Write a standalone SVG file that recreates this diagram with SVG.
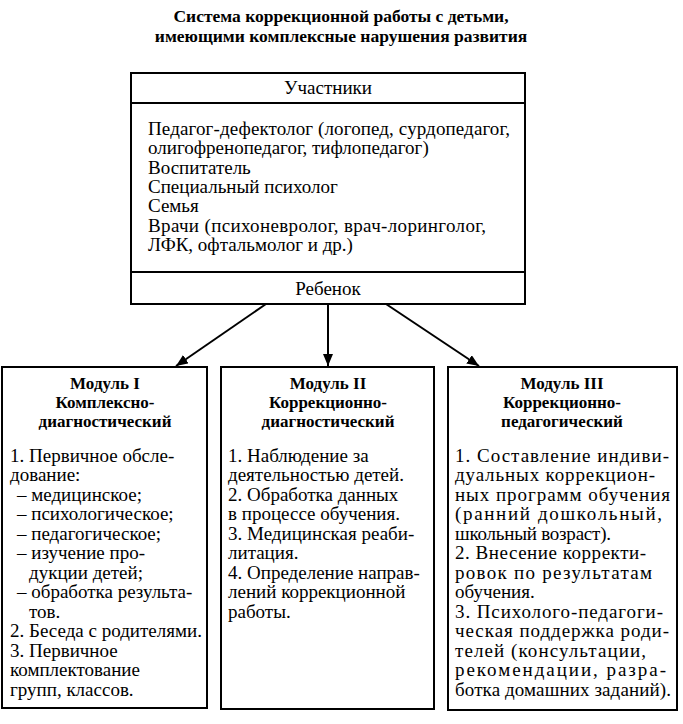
<svg xmlns="http://www.w3.org/2000/svg" width="683" height="724" viewBox="0 0 683 724">
<style>
  text { font-family: "Liberation Serif", "Times New Roman", serif; fill: #000; }
  .title { font-size: 17.5px; font-weight: bold; text-anchor: middle; }
  .hdr { font-size: 19px; text-anchor: middle; }
  .body { font-size: 19px; }
  .mt { font-size: 17px; font-weight: bold; text-anchor: middle; }
  .box { fill: #fff; stroke: #000; stroke-width: 2; }
  .div { stroke: #000; stroke-width: 2; }
  .conn { stroke: #000; stroke-width: 2; fill: none; marker-end: url(#ah); }
</style>
<defs>
  <marker id="ah" viewBox="0 0 12 10" refX="12" refY="5" markerWidth="12" markerHeight="10" markerUnits="userSpaceOnUse" orient="auto">
    <path d="M0,0 L12,5 L0,10 Z" fill="#000"/>
  </marker>
</defs>
<rect width="683" height="724" fill="#fff"/>
<g id="title">
  <text class="title" x="341" y="22">Система коррекционной работы с детьми,</text>
  <text class="title" x="341" y="42">имеющими комплексные нарушения развития</text>
</g>
<g id="participants">
  <rect class="box" x="131" y="73" width="394" height="231"/>
  <line class="div" x1="131" y1="103" x2="525" y2="103"/>
  <line class="div" x1="131" y1="272" x2="525" y2="272"/>
  <text class="hdr" x="328" y="94">Участники</text>
  <text class="body" x="148" y="135" textLength="362" lengthAdjust="spacing">Педагог-дефектолог (логопед, сурдопедагог,</text>
  <text class="body" x="148" y="154">олигофренопедагог, тифлопедагог)</text>
  <text class="body" x="148" y="174">Воспитатель</text>
  <text class="body" x="148" y="193">Специальный психолог</text>
  <text class="body" x="148" y="212">Семья</text>
  <text class="body" x="148" y="232" textLength="338" lengthAdjust="spacing">Врачи (психоневролог, врач-лоринголог,</text>
  <text class="body" x="148" y="251">ЛФК, офтальмолог и др.)</text>
  <text class="hdr" x="328" y="295">Ребенок</text>
</g>
<g id="connectors">
  <line class="conn" x1="266" y1="304" x2="176" y2="366"/>
  <line class="conn" x1="328" y1="304" x2="328" y2="366"/>
  <line class="conn" x1="386" y1="304" x2="479" y2="366"/>
</g>
<g id="module1">
  <rect class="box" x="2" y="367" width="205" height="341"/>
  <text class="mt" x="105" y="389">Модуль I</text>
  <text class="mt" x="105" y="408">Комплексно-</text>
  <text class="mt" x="105" y="427">диагностический</text>
  <text class="body" x="10" y="462">1. Первичное обсле-</text>
  <text class="body" x="10" y="481">дование:</text>
  <text class="body" x="17" y="501">– медицинское;</text>
  <text class="body" x="17" y="520">– психологическое;</text>
  <text class="body" x="17" y="540">– педагогическое;</text>
  <text class="body" x="17" y="559">– изучение про-</text>
  <text class="body" x="29" y="579">дукции детей;</text>
  <text class="body" x="17" y="598">– обработка результа-</text>
  <text class="body" x="29" y="618">тов.</text>
  <text class="body" x="10" y="637">2. Беседа с родителями.</text>
  <text class="body" x="10" y="657">3. Первичное</text>
  <text class="body" x="10" y="676">комплектование</text>
  <text class="body" x="10" y="696">групп, классов.</text>
</g>
<g id="module2">
  <rect class="box" x="221" y="367" width="213" height="342"/>
  <text class="mt" x="328" y="389">Модуль II</text>
  <text class="mt" x="328" y="408">Коррекционно-</text>
  <text class="mt" x="328" y="427">диагностический</text>
  <text class="body" x="228" y="462">1. Наблюдение за</text>
  <text class="body" x="228" y="481">деятельностью детей.</text>
  <text class="body" x="228" y="501">2. Обработка данных</text>
  <text class="body" x="228" y="520">в процессе обучения.</text>
  <text class="body" x="228" y="540">3. Медицинская реаби-</text>
  <text class="body" x="228" y="559">литация.</text>
  <text class="body" x="228" y="579">4. Определение направ-</text>
  <text class="body" x="228" y="598">лений коррекционной</text>
  <text class="body" x="228" y="618">работы.</text>
</g>
<g id="module3">
  <rect class="box" x="448" y="367" width="229" height="343"/>
  <text class="mt" x="562" y="389">Модуль III</text>
  <text class="mt" x="562" y="408">Коррекционно-</text>
  <text class="mt" x="562" y="427">педагогический</text>
  <text class="body" x="455" y="462" textLength="214" lengthAdjust="spacing">1. Составление индиви-</text>
  <text class="body" x="455" y="481" textLength="200" lengthAdjust="spacing">дуальных коррекцион-</text>
  <text class="body" x="455" y="501" textLength="215" lengthAdjust="spacing">ных программ обучения</text>
  <text class="body" x="455" y="520" textLength="207" lengthAdjust="spacing">(ранний дошкольный,</text>
  <text class="body" x="455" y="540" textLength="156" lengthAdjust="spacing">школьный возраст).</text>
  <text class="body" x="455" y="559" textLength="191" lengthAdjust="spacing">2. Внесение корректи-</text>
  <text class="body" x="455" y="579" textLength="197" lengthAdjust="spacing">ровок по результатам</text>
  <text class="body" x="455" y="598">обучения.</text>
  <text class="body" x="455" y="618" textLength="208" lengthAdjust="spacing">3. Психолого-педагоги-</text>
  <text class="body" x="455" y="637" textLength="214" lengthAdjust="spacing">ческая поддержка роди-</text>
  <text class="body" x="455" y="657" textLength="191" lengthAdjust="spacing">телей (консультации,</text>
  <text class="body" x="455" y="676" textLength="211" lengthAdjust="spacing">рекомендации, разра-</text>
  <text class="body" x="455" y="696" textLength="216" lengthAdjust="spacing">ботка домашних заданий).</text>
</g>
</svg>
